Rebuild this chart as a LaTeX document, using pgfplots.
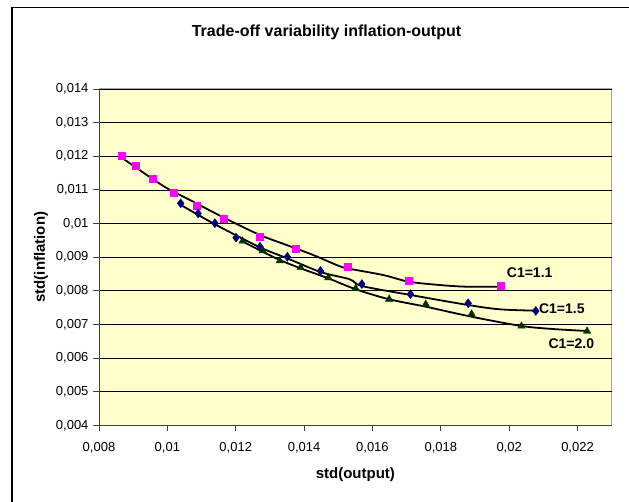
\documentclass[border=0pt]{standalone}
\usepackage{fontspec}
\setmainfont{Liberation Sans}
\usepackage{pgfplots}
\pgfplotsset{compat=1.18}
\definecolor{plotbg}{HTML}{FFFFCC}
\definecolor{c11}{HTML}{FF00FF}
\definecolor{c15}{HTML}{000080}
\definecolor{c20}{HTML}{003300}

\begin{document}
\begin{tikzpicture}
  \useasboundingbox (0,0) rectangle (629pt,-502pt);
  \draw[black, line width=1.2pt] (12pt,-7.5pt) rectangle (680pt,-540pt);
  \node[anchor=base, font=\bfseries\fontsize{16}{19}\selectfont]
    at (326.5pt,-36.7pt) {Trade-off variability inflation-output};
  \begin{axis}[
      at={(99pt,-425.3pt)}, anchor=south west,
      scale only axis, width=512.7pt, height=336.3pt,
      xmin=0.008, xmax=0.023, ymin=0.004, ymax=0.014,
      xtick={0.008,0.01,0.012,0.014,0.016,0.018,0.02,0.022},
      ytick={0.004,0.005,0.006,0.007,0.008,0.009,0.01,0.011,0.012,0.013,0.014},
      scaled ticks=false,
      /pgf/number format/.cd, fixed, precision=3, use comma, assume math mode=true,
      /pgfplots/.cd,
      ticklabel style={font=\fontsize{13}{15}\selectfont},
      xticklabel style={yshift=-8pt},
      yticklabel style={xshift=-1pt},
      axis x line*=bottom, axis y line*=left,
      axis line style={black!75, line width=1pt},
      every tick/.style={black!75, line width=0.8pt},
      tick align=outside, major tick length=6pt,
      axis background/.style={fill=plotbg, draw=gray!70, line width=1pt},
      ymajorgrids, major grid style={black, line width=0.7pt},
      xlabel={\bfseries std(output)},
      ylabel={\bfseries std(inflation)},
      label style={font=\fontsize{15}{18}\selectfont},
      xlabel style={at={(axis description cs:0.5,0)}, anchor=base, yshift=-52.7pt},
      ylabel style={at={(axis description cs:0,0.5)}, anchor=center, yshift=58pt},
    ]
    % C1 = 1.1
    \addplot[only marks, mark=square*, mark size=3.5pt, color=c11] coordinates {
      (0.00866,0.01201) (0.00908,0.01172) (0.00956,0.01134) (0.01019,0.01092)
      (0.01087,0.01053) (0.01165,0.01013) (0.01269,0.00961) (0.01376,0.00924)
      (0.01527,0.00873) (0.01706,0.00830) (0.01975,0.00814)};
    % C1 = 1.5
    \addplot[only marks, mark=diamond*, mark size=4.5pt, color=c15] coordinates {
      (0.01039,0.01060) (0.01090,0.01030) (0.01139,0.01001) (0.01201,0.00958)
      (0.01271,0.00931) (0.01351,0.00901) (0.01448,0.00859) (0.01569,0.00820)
      (0.01711,0.00790) (0.01880,0.00763) (0.02078,0.00740)};
    % C1 = 2.0
    \addplot[only marks, mark=triangle*, mark size=4.3pt, color=c20] coordinates {
      (0.01220,0.00948) (0.01279,0.00919) (0.01329,0.00889) (0.01390,0.00869)
      (0.01471,0.00839) (0.01551,0.00807) (0.01649,0.00775) (0.01756,0.00760)
      (0.01890,0.00731) (0.02036,0.00695) (0.02228,0.00680)};
    % trend lines
    \addplot[black, line width=1.8pt, smooth, tension=0.5] coordinates {
      (0.008693,0.011939) (0.009880,0.011116) (0.010661,0.010699) (0.011655,0.010173)
      (0.012708,0.009659) (0.013488,0.009361) (0.014266,0.009064) (0.014950,0.008767)
      (0.015260,0.008668) (0.016313,0.008469) (0.017064,0.008270) (0.017971,0.008171)
      (0.018752,0.008121) (0.019754,0.008121)};
    \addplot[black, line width=1.8pt, smooth, tension=0.5] coordinates {
      (0.010348,0.010580) (0.011392,0.009977) (0.012708,0.009293) (0.013506,0.008966)
      (0.014482,0.008558) (0.015339,0.008341) (0.015690,0.008142) (0.017114,0.007875)
      (0.018798,0.007577) (0.019725,0.007449) (0.020778,0.007408)};
    \addplot[black, line width=1.8pt, smooth, tension=0.5] coordinates {
      (0.012173,0.009480) (0.012787,0.009162) (0.013292,0.008915) (0.013898,0.008668)
      (0.014705,0.008371) (0.015515,0.008044) (0.016488,0.007747) (0.017561,0.007527)
      (0.018898,0.007229) (0.020360,0.006953) (0.021284,0.006863) (0.022278,0.006804)};
    \node[font=\bfseries\fontsize{14}{17}\selectfont] at (axis cs:0.02060,0.00853) {C1=1.1};
    \node[font=\bfseries\fontsize{14}{17}\selectfont] at (axis cs:0.02154,0.00746) {C1=1.5};
    \node[font=\bfseries\fontsize{14}{17}\selectfont] at (axis cs:0.02182,0.00643) {C1=2.0};
  \end{axis}
\end{tikzpicture}
\end{document}
